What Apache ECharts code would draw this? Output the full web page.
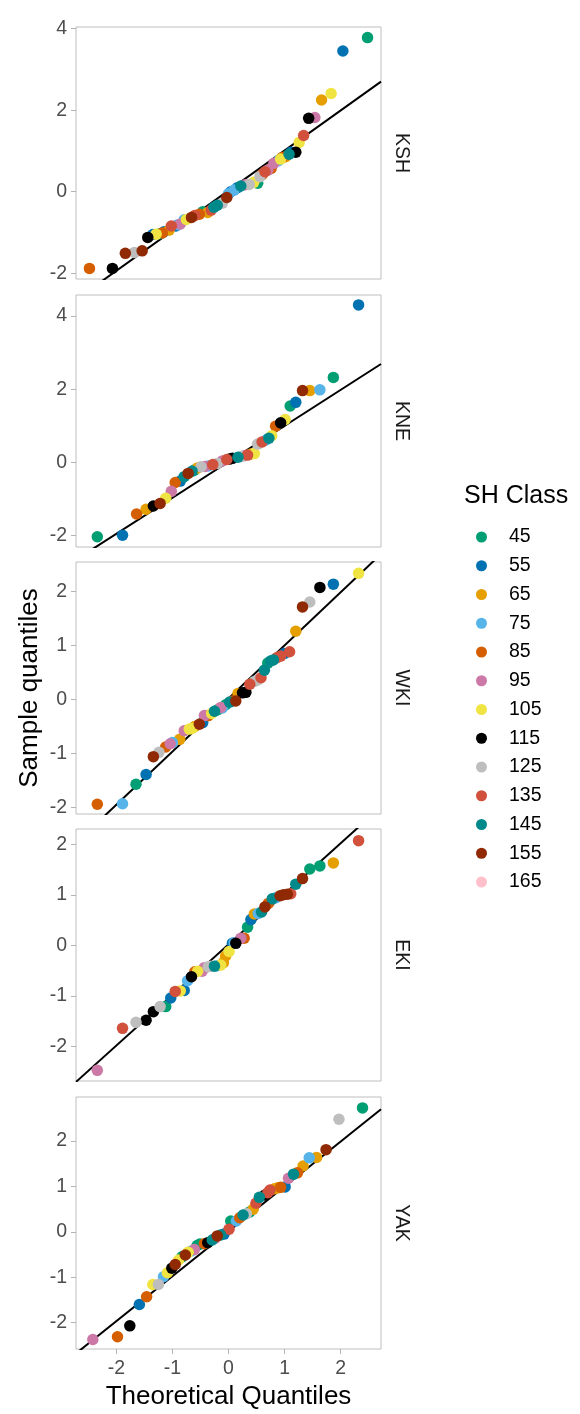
<!DOCTYPE html>
<html><head><meta charset="utf-8">
<script src="https://cdn.jsdelivr.net/npm/echarts@6/dist/echarts.min.js"></script>
<style>html,body{margin:0;padding:0;background:#fff}#c{width:580px;height:1414px}</style>
</head><body><div id="c"></div>
<script>
// ---- data ----
const classes = [45,55,65,75,85,95,105,115,125,135,145,155,165];
const classColors = ['#009E73','#0072B2','#E69F00','#56B4E9','#D55E00','#CC79A7','#F0E442','#000000','#BEBEBE','#D1513D','#00898A','#8F2A05','#FFC0CB'];
const panels = ['KSH','KNE','WKI','EKI','YAK'];
const xTicks = [-2,-1,0,1,2];
const xRange = [-2.72, 2.72];
const yRanges = [[-2.14,4.04],[-2.31,4.57],[-2.12,2.54],[-2.68,2.30],[-2.58,2.97]];
const yTicks = [[-2,0,2,4],[-2,0,2,4],[-2,-1,0,1,2],[-2,-1,0,1,2],[-2,-1,0,1,2]];
const lineIntercept = [0.028,0.015,0.016,0.02,0.012];
const lineSlope = [0.983,0.982,0.982,0.999,0.989];

// [theoretical, sample, SH class]
const KSH = [[-2.48,-1.88,85],[-2.07,-1.88,115],[-1.84,-1.51,155],[-1.68,-1.49,125],[-1.54,-1.45,155],[-1.44,-1.12,115],[-1.35,-1.05,55],[-1.29,-1.04,105],[-1.22,-1.03,45],[-1.18,-1.01,85],[-1.15,-0.98,55],[-1.06,-0.94,65],[-1.02,-0.84,135],[-0.94,-0.84,55],[-0.90,-0.81,75],[-0.86,-0.79,95],[-0.79,-0.69,75],[-0.75,-0.68,105],[-0.66,-0.63,155],[-0.60,-0.58,135],[-0.52,-0.55,85],[-0.46,-0.49,45],[-0.37,-0.51,65],[-0.31,-0.45,135],[-0.26,-0.38,145],[-0.20,-0.33,145],[-0.11,-0.28,125],[-0.03,-0.14,155],[0.00,-0.05,75],[0.04,0.00,55],[0.10,0.04,75],[0.16,0.10,55],[0.22,0.14,145],[0.30,0.17,95],[0.37,0.18,125],[0.45,0.23,105],[0.52,0.21,45],[0.56,0.37,125],[0.60,0.42,85],[0.65,0.49,135],[0.70,0.53,95],[0.76,0.57,85],[0.81,0.70,95],[0.89,0.76,75],[0.93,0.80,105],[0.96,0.84,85],[1.02,0.86,65],[1.08,0.92,145],[1.12,0.97,55],[1.20,0.97,115],[1.26,1.21,105],[1.34,1.38,135],[1.43,1.80,115],[1.54,1.82,95],[1.66,2.25,65],[1.83,2.41,105],[2.04,3.45,55],[2.48,3.78,45]];
const KNE = [[-2.34,-2.03,45],[-1.89,-1.99,55],[-1.64,-1.41,85],[-1.47,-1.28,65],[-1.34,-1.19,115],[-1.22,-1.12,155],[-1.12,-0.98,105],[-1.02,-0.79,95],[-0.95,-0.55,85],[-0.86,-0.51,55],[-0.79,-0.39,145],[-0.72,-0.30,155],[-0.65,-0.24,145],[-0.61,-0.21,45],[-0.55,-0.15,65],[-0.49,-0.12,125],[-0.42,-0.11,95],[-0.36,-0.10,75],[-0.28,-0.06,135],[-0.20,-0.03,125],[-0.11,0.04,95],[-0.03,0.08,135],[0.02,0.09,115],[0.07,0.11,115],[0.17,0.14,145],[0.23,0.16,125],[0.28,0.18,95],[0.34,0.20,135],[0.40,0.23,65],[0.46,0.24,105],[0.52,0.50,125],[0.60,0.56,135],[0.67,0.61,75],[0.72,0.66,145],[0.77,0.73,105],[0.84,0.99,85],[0.93,1.08,115],[1.01,1.17,105],[1.10,1.54,45],[1.20,1.64,55],[1.32,1.96,155],[1.45,1.96,65],[1.63,1.98,75],[1.87,2.32,45],[2.32,4.30,55]];
const WKI = [[-2.34,-1.94,85],[-1.89,-1.93,75],[-1.65,-1.57,45],[-1.47,-1.39,55],[-1.34,-1.06,155],[-1.24,-0.98,125],[-1.12,-0.88,85],[-1.04,-0.82,95],[-1.00,-0.80,75],[-0.87,-0.74,65],[-0.79,-0.58,95],[-0.70,-0.55,105],[-0.65,-0.54,105],[-0.60,-0.50,65],[-0.52,-0.46,155],[-0.46,-0.43,55],[-0.43,-0.30,95],[-0.36,-0.30,85],[-0.30,-0.26,105],[-0.25,-0.22,145],[-0.19,-0.19,45],[-0.14,-0.15,95],[-0.11,-0.16,75],[-0.05,-0.10,45],[0.02,-0.05,145],[0.07,-0.03,85],[0.13,-0.03,155],[0.17,0.11,65],[0.25,0.12,115],[0.31,0.13,115],[0.38,0.28,135],[0.46,0.33,125],[0.52,0.36,125],[0.58,0.40,135],[0.64,0.54,145],[0.70,0.67,45],[0.75,0.71,145],[0.80,0.73,145],[0.86,0.77,135],[0.93,0.80,135],[1.00,0.85,55],[1.09,0.88,135],[1.20,1.26,65],[1.32,1.71,155],[1.45,1.80,125],[1.63,2.07,115],[1.87,2.13,55],[2.32,2.33,105]];
const EKI = [[-2.34,-2.47,95],[-1.89,-1.64,135],[-1.65,-1.52,125],[-1.47,-1.48,115],[-1.34,-1.31,115],[-1.22,-1.21,125],[-1.12,-1.21,45],[-1.03,-1.04,55],[-0.95,-0.91,135],[-0.86,-0.90,105],[-0.79,-0.89,55],[-0.73,-0.70,75],[-0.66,-0.62,115],[-0.60,-0.52,85],[-0.55,-0.51,105],[-0.47,-0.51,95],[-0.43,-0.44,95],[-0.36,-0.42,125],[-0.31,-0.41,125],[-0.25,-0.41,145],[-0.20,-0.40,75],[-0.14,-0.39,105],[-0.09,-0.34,65],[-0.05,-0.21,65],[0.01,-0.12,105],[0.07,0.04,55],[0.10,0.05,75],[0.13,0.04,115],[0.22,0.14,95],[0.28,0.14,85],[0.34,0.36,45],[0.40,0.51,55],[0.46,0.62,65],[0.53,0.63,75],[0.59,0.66,145],[0.65,0.76,155],[0.71,0.83,85],[0.78,0.92,145],[0.84,0.94,75],[0.92,0.98,155],[0.98,1.00,155],[1.05,1.01,155],[1.11,1.02,135],[1.20,1.21,145],[1.32,1.32,155],[1.45,1.51,45],[1.63,1.57,45],[1.87,1.63,65],[2.32,2.07,135]];
const YAK = [[-2.42,-2.37,95],[-1.98,-2.31,85],[-1.76,-2.07,115],[-1.59,-1.60,55],[-1.46,-1.43,85],[-1.35,-1.16,105],[-1.25,-1.16,125],[-1.16,-0.99,75],[-1.09,-0.90,105],[-1.01,-0.80,115],[-0.95,-0.72,155],[-0.89,-0.62,105],[-0.83,-0.55,45],[-0.77,-0.51,155],[-0.72,-0.45,105],[-0.66,-0.42,75],[-0.61,-0.39,95],[-0.56,-0.30,45],[-0.51,-0.27,45],[-0.43,-0.26,85],[-0.37,-0.24,115],[-0.29,-0.18,145],[-0.24,-0.14,95],[-0.20,-0.09,155],[-0.14,-0.07,145],[-0.08,-0.05,55],[0.01,0.06,135],[0.04,0.24,45],[0.14,0.24,75],[0.20,0.31,85],[0.26,0.37,145],[0.32,0.40,125],[0.38,0.44,45],[0.44,0.50,65],[0.49,0.63,135],[0.55,0.76,145],[0.65,0.81,115],[0.70,0.86,135],[0.74,0.92,135],[0.82,0.95,65],[0.88,0.97,65],[0.93,0.98,85],[1.01,0.99,55],[1.07,1.18,95],[1.16,1.27,145],[1.23,1.30,85],[1.33,1.45,65],[1.44,1.63,75],[1.57,1.64,65],[1.74,1.81,155],[1.97,2.48,125],[2.39,2.73,45]];
const panelData = [KSH, KNE, WKI, EKI, YAK];

// ---- layout ----
const FONT = 'Liberation Sans, Arial, Helvetica, sans-serif';
const gLeft = 76, gWidth = 305, gHeight = 252;
const gTops = [27, 295, 562, 829, 1097];

const grids = [], xAxes = [], yAxes = [], series = [], graphics = [];
panels.forEach((p, i) => {
  grids.push({left: gLeft, top: gTops[i], width: gWidth, height: gHeight, show: true,
    borderColor: '#BEBEBE', borderWidth: 1, backgroundColor: '#fff'});
  const last = i === panels.length - 1;
  xAxes.push({type: 'value', gridIndex: i, min: xRange[0], max: xRange[1], position: 'bottom',
    axisLine: {show: false, onZero: false}, splitLine: {show: false},
    axisTick: {show: last, length: 5, lineStyle: {color: '#B3B3B3'}, customValues: xTicks},
    axisLabel: {show: last, customValues: xTicks, color: '#4D4D4D', fontSize: 19.5, fontFamily: FONT, margin: 10}});
  yAxes.push({type: 'value', gridIndex: i, min: yRanges[i][0], max: yRanges[i][1], position: 'left',
    axisLine: {show: false, onZero: false}, splitLine: {show: false},
    axisTick: {show: true, length: 5, lineStyle: {color: '#B3B3B3'}, customValues: yTicks[i]},
    axisLabel: {customValues: yTicks[i], color: '#4D4D4D', fontSize: 19.5, fontFamily: FONT, margin: 9}});
  const x0 = xRange[0], x1 = xRange[1];
  series.push({type: 'line', xAxisIndex: i, yAxisIndex: i, symbol: 'none', silent: true,
    lineStyle: {color: '#000', width: 2}, clip: true, z: 1,
    data: [[x0, lineIntercept[i] + lineSlope[i] * x0], [x1, lineIntercept[i] + lineSlope[i] * x1]]});
  classes.forEach((c, k) => {
    series.push({type: 'scatter', name: String(c), xAxisIndex: i, yAxisIndex: i,
      symbolSize: 11.5, itemStyle: {color: classColors[k], opacity: 1}, z: 2,
      data: panelData[i].filter(d => d[2] === c).map(d => [d[0], d[1]])});
  });
  graphics.push({type: 'text', x: 401, y: gTops[i] + gHeight / 2, rotation: -Math.PI / 2,
    style: {text: p, font: '19.5px ' + FONT, fill: '#1A1A1A', textAlign: 'center', textVerticalAlign: 'middle'}});
});
graphics.push({type: 'text', x: 30, y: (gTops[0] + gTops[4] + gHeight) / 2, rotation: Math.PI / 2,
  style: {text: 'Sample quantiles', font: '26px ' + FONT, fill: '#000', textAlign: 'center', textVerticalAlign: 'middle'}});
graphics.push({type: 'text', x: gLeft + gWidth / 2, y: 1397,
  style: {text: 'Theoretical Quantiles', font: '26px ' + FONT, fill: '#000', textAlign: 'center', textVerticalAlign: 'middle'}});
graphics.push({type: 'text', x: 464, y: 496,
  style: {text: 'SH Class', font: '25px ' + FONT, fill: '#000', textAlign: 'left', textVerticalAlign: 'middle'}});

const chart = echarts.init(document.getElementById('c'), null, {renderer: 'canvas'});
chart.setOption({
  animation: false,
  backgroundColor: '#fff',
  grid: grids, xAxis: xAxes, yAxis: yAxes, series: series, graphic: graphics,
  legend: {orient: 'vertical', left: 471, top: 522, icon: 'circle', itemWidth: 11, itemHeight: 11,
    itemGap: 8.75, data: classes.map(String),
    textStyle: {fontSize: 19.5, fontFamily: FONT, color: '#000', lineHeight: 20, padding: [0, 0, 0, 17]}}
});
</script></body></html>
